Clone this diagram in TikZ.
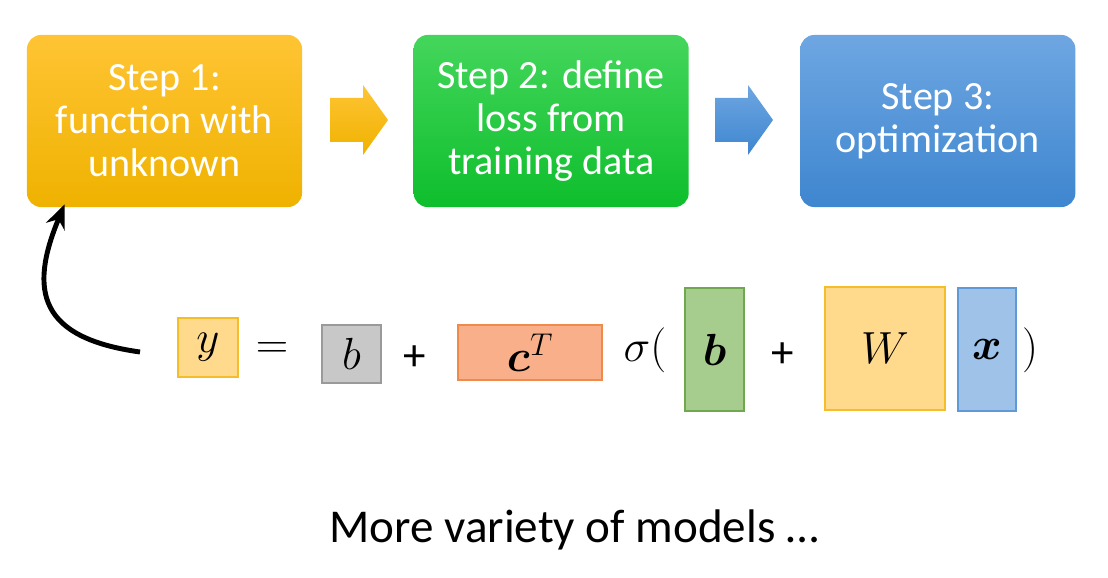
\documentclass[tikz,border=0pt]{standalone}
\usepackage{fix-cm}
\usepackage{amsmath}
\usepackage{fontspec}
\setmainfont{Carlito}
\usetikzlibrary{positioning, arrows.meta, calc}

\definecolor{yelltop}{HTML}{FFC434}
\definecolor{yellbot}{HTML}{EFB200}
\definecolor{greentop}{HTML}{44D65C}
\definecolor{greenbot}{HTML}{0EBE2C}
\definecolor{bluetop}{HTML}{6EA6E2}
\definecolor{bluebot}{HTML}{3E86CF}
\definecolor{yfill}{HTML}{FFD98C}
\definecolor{yline}{HTML}{F6BD2A}
\definecolor{gfill}{HTML}{C8C8C8}
\definecolor{gline}{HTML}{9A9A9A}
\definecolor{cfill}{HTML}{F9B08A}
\definecolor{cline}{HTML}{F08A4A}
\definecolor{bfill}{HTML}{A6CC8E}
\definecolor{bline}{HTML}{70A850}
\definecolor{xfill}{HTML}{9EC2E8}
\definecolor{xline}{HTML}{5F9AD6}

\begin{document}
\begin{tikzpicture}[
    x=0.025cm, y=-0.025cm,
    node distance=0.7cm and 2.775cm, % vertical and horizontal spacing
    stepbox/.style={rounded corners=0.35cm, minimum width=6.875cm,
        minimum height=4.3cm, align=center, text=white,
        font=\fontsize{28.5}{30.6}\selectfont, shading angle=0},
    eqbox/.style={draw, line width=0.8pt, inner sep=0pt},
    eqtext/.style={font=\fontsize{32}{38}\selectfont},
    blockarrow/.style={shading angle=0}
]
    \useasboundingbox (0,0) rectangle (1108,577);

    % The three steps
    \node (step1) [stepbox, top color=yelltop, bottom color=yellbot]
        at (164.5,121) {Step 1:\\function with\\unknown};
    \node (step2) [stepbox, top color=greentop, bottom color=greenbot,
        right=of step1] {Step 2: define\\loss from\\training data};
    \node (step3) [stepbox, top color=bluetop, bottom color=bluebot,
        right=of step2] {Step 3:\\optimization};

    % block arrows between the steps
    \shade [blockarrow, top color=yelltop, bottom color=yellbot]
        (330,98) -- (363,98) -- (363,85) -- (388,120) -- (363,155)
        -- (363,142) -- (330,142) -- cycle;
    \shade [blockarrow, top color=bluetop, bottom color=bluebot]
        (715,98) -- (748,98) -- (748,85) -- (773,120) -- (748,155)
        -- (748,142) -- (715,142) -- cycle;

    % the function
    \node (ybox) [eqbox, eqtext, fill=yfill, draw=yline,
        minimum width=1.5cm, minimum height=1.475cm] at (208,347.5) {$y$};
    \node (eq) [eqtext] at (272,350) {$=$};
    \node (bbox) [eqbox, eqtext, fill=gfill, draw=gline,
        minimum width=1.475cm, minimum height=1.45cm] at (351.5,354) {$b$};
    \node (plus1) [font=\fontsize{32}{38}\selectfont] at (415,358) {+};
    \node (cbox) [eqbox, eqtext, fill=cfill, draw=cline,
        minimum width=3.6cm, minimum height=1.375cm] at (530,352.5)
        {$\boldsymbol{c}^T$};
    \node (sigma) [eqtext] at (645,350) {$\sigma($};
    \node (bvec) [eqbox, eqtext, fill=bfill, draw=bline,
        minimum width=1.475cm, minimum height=3.075cm] at (714.5,349.5)
        {$\boldsymbol{b}$};
    \node (plus2) [font=\fontsize{32}{38}\selectfont] at (783,355) {+};
    \node (wmat) [eqbox, eqtext, fill=yfill, draw=yline,
        minimum width=3cm, minimum height=3.075cm] at (885,348.5) {$W$};
    \node (xvec) [eqbox, eqtext, fill=xfill, draw=xline,
        minimum width=1.45cm, minimum height=3.075cm] at (987,349.5)
        {$\boldsymbol{x}$};
    \node (rparen) [eqtext] at (1030,350) {$)$};

    % curved arrow back to step 1
    \coordinate (tail) at (140,352);
    \draw [-{Stealth[length=0.6cm, width=0.5cm]}, line width=3.5pt]
        (tail) .. controls (40,338) and (28,292) .. ($(step1.south west)+(38,-3)$);

    \node (caption) [font=\fontsize{33.5}{40}\selectfont] at (574,530)
        {More variety of models …};
\end{tikzpicture}
\end{document}
